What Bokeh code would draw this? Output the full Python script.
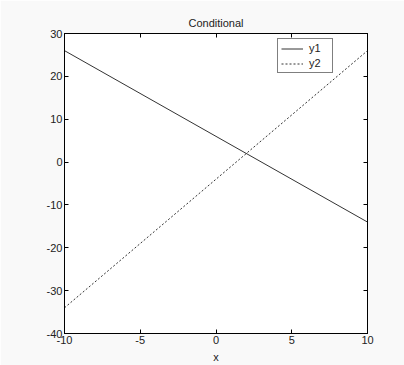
from bokeh.plotting import figure
from bokeh.models import LinearAxis, Range1d, Legend, LegendItem, FixedTicker, CustomJSTickFormatter
from bokeh.embed import file_html
from bokeh.resources import INLINE

# Two straight lines sampled at the ends of the x range
x = [-10, 10]
y1 = [26, -14]
y2 = [-34, 26]

x_ticks = [-10, -5, 0, 5, 10]
y_ticks = [-40, -30, -20, -10, 0, 10, 20, 30]

FONT = "Liberation Sans"
FS = "11px"
TXT = "#222222"

p = figure(width=404, height=365, output_backend="svg", toolbar_location=None,
           x_range=Range1d(-10, 10), y_range=Range1d(-40, 30),
           min_border_left=64, min_border_right=37, min_border_top=33, min_border_bottom=32,
           background_fill_color="white", border_fill_color="#f9f9f9",
           outline_line_color="black", outline_line_width=1)

p.title.text = "Conditional"
p.title.align = "center"
p.title.text_font = FONT
p.title.text_font_size = FS
p.title.text_font_style = "normal"
p.title.text_color = TXT
p.title.offset = 0
p.title.standoff = 10

p.grid.visible = False

# plain hyphen-minus for negative tick labels
plain = CustomJSTickFormatter(code="return tick.toString();")

def style_axis(ax, labels=True):
    ax.axis_line_color = "black"
    ax.major_tick_in = 4
    ax.major_tick_out = 0
    ax.minor_tick_line_color = None
    ax.major_tick_line_color = "black"
    ax.major_label_text_font = FONT
    ax.major_label_text_font_size = FS if labels else "0px"
    ax.major_label_text_color = TXT
    ax.major_label_standoff = 2
    ax.formatter = plain
    if not labels:
        ax.major_label_text_alpha = 0

p.xaxis.ticker = FixedTicker(ticks=x_ticks)
p.yaxis.ticker = FixedTicker(ticks=y_ticks)
style_axis(p.xaxis[0])
style_axis(p.yaxis[0])
p.xaxis.axis_label = "x"
p.xaxis.axis_label_text_font = FONT
p.xaxis.axis_label_text_font_size = FS
p.xaxis.axis_label_text_font_style = "normal"
p.xaxis.axis_label_text_color = TXT
p.xaxis.axis_label_standoff = 4

top = LinearAxis(ticker=FixedTicker(ticks=x_ticks))
style_axis(top, labels=False)
p.add_layout(top, "above")
right = LinearAxis(ticker=FixedTicker(ticks=y_ticks))
style_axis(right, labels=False)
p.add_layout(right, "right")

r1 = p.line(x, y1, line_color="#333333", line_width=1)
r2 = p.line(x, y2, line_color="#333333", line_width=1, line_dash="2 2")

legend = Legend(items=[LegendItem(label="y1", renderers=[r1]),
                       LegendItem(label="y2", renderers=[r2])],
                location=(213, 260))
legend.label_text_font = FONT
legend.label_text_font_size = "11px"
legend.label_text_color = TXT
legend.label_height = 11
legend.glyph_height = 11
legend.glyph_width = 22
legend.label_standoff = 6
legend.spacing = 3
legend.padding = 3
legend.margin = 0
legend.border_line_color = "black"
legend.background_fill_color = "white"
p.add_layout(legend, "center")

open("out.html", "w").write(file_html(p, INLINE))
